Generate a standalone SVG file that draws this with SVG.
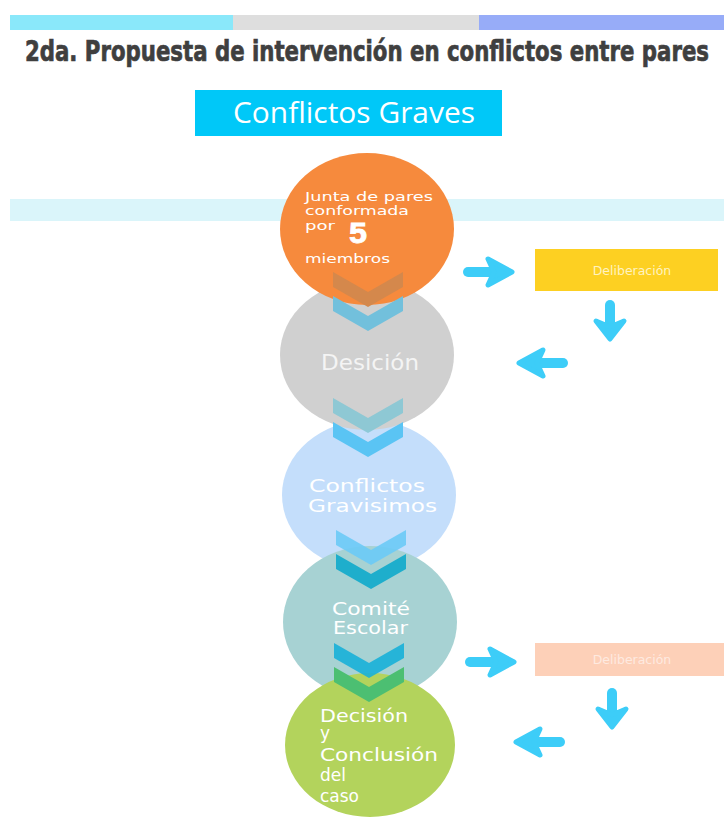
<svg xmlns="http://www.w3.org/2000/svg" xmlns:xlink="http://www.w3.org/1999/xlink" width="724" height="819" viewBox="0 0 724 819">
  <style>
    .title { font-family: "Liberation Sans Narrow", "DejaVu Sans Condensed", "Liberation Sans", sans-serif; font-weight: bold; font-size: 29px; fill: #3f3f3f; stroke: #3f3f3f; stroke-width: 0.7; }
    .head { font-family: "Open Sans", "Liberation Sans", sans-serif; font-size: 29px; fill: #ffffff; }
    .ctext { font-family: "DejaVu Sans", "Liberation Sans", sans-serif; fill: #ffffff; }
    .box { font-family: "DejaVu Sans", "Liberation Sans", sans-serif; font-size: 12.5px; }
    .shaft { fill: none; stroke: #3dcdf8; stroke-width: 10; stroke-linecap: round; }
    .tip { fill: #3dcdf8; stroke: #3dcdf8; stroke-width: 5; stroke-linejoin: round; }
  </style>
  <defs>
    <polygon id="chev" points="-35,0 0,20 35,0 35,15 0,35 -35,15"/>
    <!-- horizontal arrow pointing right, centred on the origin -->
    <g id="arrowH">
      <path class="shaft" d="M-22,0 L8,0"/>
      <polygon class="tip" points="-2,-13 22,0 -2,13 4,0"/>
    </g>
    <!-- vertical arrow pointing down, centred on the origin -->
    <g id="arrowV">
      <path class="shaft" d="M0,-17 L0,4"/>
      <polygon class="tip" points="-14,-1 0,17 14,-1 0,5"/>
    </g>
    <clipPath id="clipOrange">
      <ellipse cx="367" cy="229" rx="87" ry="76"/>
    </clipPath>
  </defs>

  <!-- top colour strip -->
  <g id="strip">
    <rect x="10" y="15" width="223" height="15" fill="#8ae8fa"/>
    <rect x="233" y="15" width="246" height="15" fill="#dedede"/>
    <rect x="479" y="15" width="245" height="15" fill="#97acf8"/>
  </g>

  <text class="title" x="25" y="61" textLength="684" lengthAdjust="spacingAndGlyphs">2da. Propuesta de intervención en conflictos entre pares</text>

  <g id="graves">
    <rect x="195" y="90" width="307" height="46" fill="#00c8f8"/>
    <text class="head" x="233" y="123" textLength="242" lengthAdjust="spacingAndGlyphs">Conflictos Graves</text>
  </g>

  <!-- pale band behind the first step -->
  <rect x="10" y="199" width="714" height="22" fill="#daf5fa"/>

  <!-- steps -->
  <g id="step3">
    <ellipse cx="369" cy="495" rx="87" ry="75" fill="#c4defb"/>
  </g>
  <g id="step2">
    <ellipse cx="367" cy="355" rx="87" ry="75" fill="#d0d0d0"/>
  </g>
  <g id="step1">
    <ellipse cx="367" cy="229" rx="87" ry="76" fill="#f68a3d"/>
  </g>
  <g id="step4">
    <ellipse cx="370" cy="622" rx="87" ry="76" fill="#a7d2d3"/>
  </g>
  <g id="step5">
    <ellipse cx="370" cy="745" rx="85" ry="72" fill="#b3d35c"/>
  </g>

  <g id="connectors">
    <!-- step1 to step2 -->
    <use xlink:href="#chev" x="368" y="296" fill="#72c0dc"/>
    <use xlink:href="#chev" x="368" y="296" fill="#e07a36" clip-path="url(#clipOrange)"/>
    <use xlink:href="#chev" x="368" y="272" fill="#d4884c"/>
    <!-- step2 to step3 -->
    <use xlink:href="#chev" x="368" y="422" fill="#5ac4f4"/>
    <use xlink:href="#chev" x="368" y="398" fill="#86c6d4" fill-opacity="0.9"/>
    <!-- step3 to step4 -->
    <use xlink:href="#chev" x="371" y="554" fill="#1eaecc"/>
    <use xlink:href="#chev" x="371" y="530" fill="#6ccaf6" fill-opacity="0.9"/>
    <!-- step4 to step5 -->
    <use xlink:href="#chev" x="369" y="667" fill="#4cbf72"/>
    <use xlink:href="#chev" x="369" y="643" fill="#18b0d8" fill-opacity="0.9"/>

    <!-- side loops through deliberation -->
    <use xlink:href="#arrowH" transform="translate(490,272)"/>
    <use xlink:href="#arrowV" transform="translate(610,322)"/>
    <use xlink:href="#arrowH" transform="translate(541,363) rotate(180)"/>
    <use xlink:href="#arrowH" transform="translate(492,662)"/>
    <use xlink:href="#arrowV" transform="translate(612,710)"/>
    <use xlink:href="#arrowH" transform="translate(538,742) rotate(180)"/>
  </g>

  <g id="deliberacion1">
    <rect x="535" y="249" width="183" height="42" fill="#fdd022"/>
    <text class="box" x="632" y="275" text-anchor="middle" fill="#fff3c0">Deliberación</text>
  </g>
  <g id="deliberacion2">
    <rect x="535" y="643" width="189" height="33" fill="#fdd0b8"/>
    <text class="box" x="632" y="664" text-anchor="middle" fill="#feeae0">Deliberación</text>
  </g>

  <!-- step labels -->
  <g id="label1" class="ctext" font-size="13">
    <text x="305" y="201" textLength="128" lengthAdjust="spacingAndGlyphs">Junta de pares</text>
    <text x="305" y="215" textLength="104" lengthAdjust="spacingAndGlyphs">conformada</text>
    <text x="305" y="230" textLength="30" lengthAdjust="spacingAndGlyphs">por</text>
    <text x="349" y="243" font-family="Liberation Sans Narrow, Liberation Sans, sans-serif" font-weight="bold" font-size="29" stroke="#ffffff" stroke-width="0.8" textLength="18" lengthAdjust="spacingAndGlyphs">5</text>
    <text x="305" y="263" textLength="85" lengthAdjust="spacingAndGlyphs">miembros</text>
  </g>
  <g id="label2" class="ctext" font-size="22">
    <text x="370" y="370" text-anchor="middle" fill="#f4f4f4" textLength="98" lengthAdjust="spacingAndGlyphs">Desición</text>
  </g>
  <g id="label3" class="ctext" font-size="18">
    <text x="309" y="492" textLength="116" lengthAdjust="spacingAndGlyphs">Conflictos</text>
    <text x="308" y="512" textLength="129" lengthAdjust="spacingAndGlyphs">Gravisimos</text>
  </g>
  <g id="label4" class="ctext" font-size="17">
    <text x="332" y="615" textLength="78" lengthAdjust="spacingAndGlyphs">Comité</text>
    <text x="333" y="634" textLength="75" lengthAdjust="spacingAndGlyphs">Escolar</text>
  </g>
  <g id="label5" class="ctext" font-size="17">
    <text x="320" y="722" textLength="88" lengthAdjust="spacingAndGlyphs">Decisión</text>
    <text x="320" y="739">y</text>
    <text x="320" y="761" textLength="118" lengthAdjust="spacingAndGlyphs">Conclusión</text>
    <text x="320" y="781">del</text>
    <text x="320" y="802">caso</text>
  </g>
</svg>
